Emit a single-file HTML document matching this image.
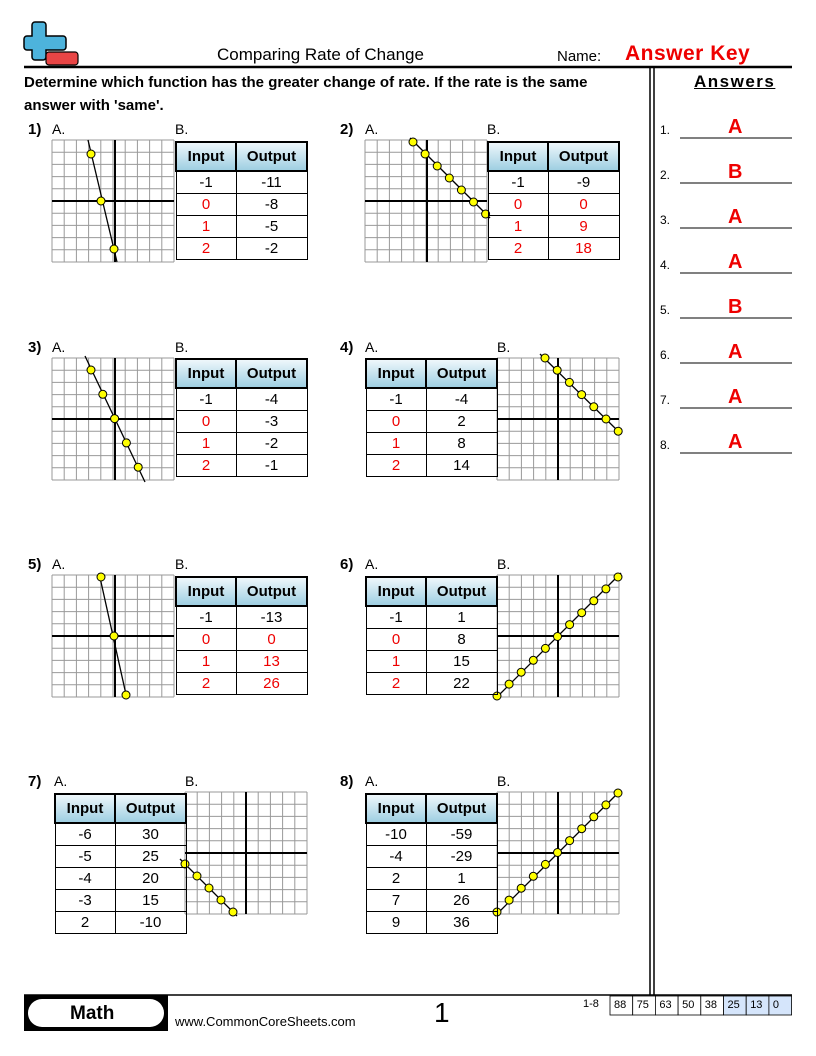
<!DOCTYPE html>
<html><head><meta charset="utf-8"><style>
body{margin:0;width:816px;height:1056px;background:#fff;position:relative;font-family:"Liberation Sans",sans-serif;overflow:hidden}
.a{position:absolute;white-space:nowrap}
table.t{position:absolute;border-collapse:collapse;font-size:15px}
table.t td,table.t th{border:1px solid #000;text-align:center;padding:0;height:21px;line-height:20px}
table.t th{background:linear-gradient(#eef7fb,#9fcfe2);height:27px;font-size:15px;border:2px solid #000}
.r{color:#e00}
svg{position:absolute;left:0;top:0}
</style></head><body>
<svg width="816" height="1056" id="s">
<path d="M35,22 h8 a3,3 0 0 1 3,3 v11 h17 a3,3 0 0 1 3,3 v8 a3,3 0 0 1 -3,3 h-17 v7 a3,3 0 0 1 -3,3 h-8 a3,3 0 0 1 -3,-3 v-7 h-5 a3,3 0 0 1 -3,-3 v-8 a3,3 0 0 1 3,-3 h5 v-11 a3,3 0 0 1 3,-3 z" fill="#4db3dc" stroke="#000" stroke-width="1.5"/>
<rect x="46" y="52" width="32" height="13" rx="3" fill="#e84545" stroke="#000" stroke-width="1.2"/>
<line x1="24" y1="67" x2="792" y2="67" stroke="#000" stroke-width="2.5"/>
<line x1="650" y1="68" x2="650" y2="995" stroke="#000" stroke-width="1.5"/>
<line x1="654" y1="68" x2="654" y2="995" stroke="#000" stroke-width="1.5"/>
<line x1="24" y1="995" x2="792" y2="995" stroke="#000" stroke-width="1.5"/>
<rect x="24" y="995" width="144" height="36" fill="#000"/>
<rect x="28" y="999" width="136" height="28" rx="14" fill="#fff"/>
</svg>
<div class="a" style="left:217px;top:45px;font-size:17px">Comparing Rate of Change</div>
<div class="a" style="left:557px;top:48px;font-size:15px">Name:</div>
<div class="a" style="left:625px;top:42px;font-size:21px;font-weight:bold;color:#e00;letter-spacing:0.5px">Answer Key</div>
<div class="a" style="left:24px;top:71px;font-size:15px;font-weight:bold;line-height:23px;white-space:normal;width:610px">Determine which function has the greater change of rate. If the rate is the same answer with 'same'.</div>
<div class="a" style="left:694px;top:72px;font-size:17px;font-weight:bold;text-decoration:underline;letter-spacing:1.5px">Answers</div>
<div class="a" style="left:70px;top:1003px;font-size:19px;font-weight:bold">Math</div>
<div class="a" style="left:175px;top:1014px;font-size:13px">www.CommonCoreSheets.com</div>
<div class="a" style="left:434px;top:997px;font-size:28px">1</div>
<div class="a" style="left:583px;top:998px;font-size:11px">1-8</div>
<div id="c"></div>
<script>
var s=document.getElementById('s'),c=document.getElementById('c'),NS='http://www.w3.org/2000/svg';
function el(t,a){var e=document.createElementNS(NS,t);for(var k in a)e.setAttribute(k,a[k]);s.appendChild(e);return e}
function txt(x,y,t,st){var d=document.createElement('div');d.className='a';d.style.left=x+'px';d.style.top=y+'px';d.style.cssText+=st||'';d.innerHTML=t;c.appendChild(d)}
function graph(x,y,ax,ay,line,pts){
 var cs=12.2,w=122;
 el('rect',{x:x,y:y,width:w,height:w,fill:'#fff'});
 for(var i=0;i<=10;i++){el('line',{x1:x+i*cs,y1:y,x2:x+i*cs,y2:y+w,stroke:'#999','stroke-width':1});el('line',{x1:x,y1:y+i*cs,x2:x+w,y2:y+i*cs,stroke:'#999','stroke-width':1});}
 el('line',{x1:ax,y1:y,x2:ax,y2:y+w,stroke:'#000','stroke-width':2});
 el('line',{x1:x,y1:ay,x2:x+w,y2:ay,stroke:'#000','stroke-width':2});
 el('line',{x1:line[0],y1:line[1],x2:line[2],y2:line[3],stroke:'#000','stroke-width':1.3});
 pts.forEach(function(p){el('circle',{cx:p[0],cy:p[1],r:4,fill:'#ff0',stroke:'#000','stroke-width':1})});
}
function table(x,y,rows){
 var h='<table class="t" style="left:'+x+'px;top:'+y+'px"><tr><th style="width:58px">Input</th><th style="width:69px">Output</th></tr>';
 rows.forEach(function(r){h+='<tr><td'+(r[2]&1?' class="r"':'')+'>'+r[0]+'</td><td'+(r[2]&2?' class="r"':'')+'>'+r[1]+'</td></tr>'});
 c.insertAdjacentHTML('beforeend',h+'</table>');
}
function lab(n,x,xa,xb,y){txt(x,y,n+')','font-size:15px;font-weight:bold');txt(xa,y,'A.','font-size:14px');txt(xb,y,'B.','font-size:14px');}
function diag(x0,y0,dx,dy,n){var a=[];for(var i=0;i<n;i++)a.push([x0+i*dx,y0+i*dy]);return a}
lab(1,28,52,175,121);lab(2,340,365,487,121);lab(3,28,52,175,339);lab(4,340,365,497,339);
lab(5,28,52,175,556);lab(6,340,365,497,556);lab(7,28,54,185,773);lab(8,340,365,497,773);
graph(52,140,115,201,[88,140,117,262],[[91,154],[101,201],[114,249]]);
table(175,141,[[-1,-11,0],[0,-8,1],[1,-5,1],[2,-2,1]]);
graph(365,140,427,201,[410,138,490,218],diag(413,142,12.1,12,7));
table(487,141,[[-1,-9,0],[0,0,3],[1,9,3],[2,18,3]]);
graph(52,358,115,419,[85,356,145,482],diag(91,370,11.8,24.3,5));
table(175,358,[[-1,-4,0],[0,-3,1],[1,-2,1],[2,-1,1]]);
table(365,358,[[-1,-4,0],[0,2,1],[1,8,1],[2,14,1]]);
graph(497,358,558,419,[540,354,621,434],diag(545,358,12.2,12.2,7));
graph(52,575,115,636,[99,573,127,699],[[101,577],[114,636],[126,695]]);
table(175,576,[[-1,-13,0],[0,0,3],[1,13,3],[2,26,3]]);
table(365,576,[[-1,1,0],[0,8,1],[1,15,1],[2,22,1]]);
graph(497,575,558,636,[495,699,621,573],diag(497,696,12.1,-11.9,11));
table(54,793,[[-6,30,0],[-5,25,0],[-4,20,0],[-3,15,0],[2,-10,0]]);
graph(185,792,246,853,[180,859,237,916],diag(185,864,12,12,5));
table(365,793,[[-10,-59,0],[-4,-29,0],[2,1,0],[7,26,0],[9,36,0]]);
graph(497,792,558,853,[495,916,621,790],diag(497,912,12.1,-11.9,11));
var ans='ABAABAAA';
for(var i=0;i<8;i++){var y=121+i*45;txt(660,y+2,(i+1)+'.','font-size:12px');el('line',{x1:680,y1:y+17,x2:792,y2:y+17,stroke:'#000','stroke-width':1});txt(728,y-5,ans[i],'font-size:20px;font-weight:bold;color:#e00');}
var sc=['88','75','63','50','38','25','13','0'];
for(var i=0;i<8;i++){var x=610+i*22.7;el('rect',{x:x,y:996,width:22.7,height:19,fill:i>=5?'#d5e5fb':'#fff',stroke:'#000','stroke-width':0.8});txt(x+4,999,sc[i],'font-size:11px');}
</script>
</body></html>
